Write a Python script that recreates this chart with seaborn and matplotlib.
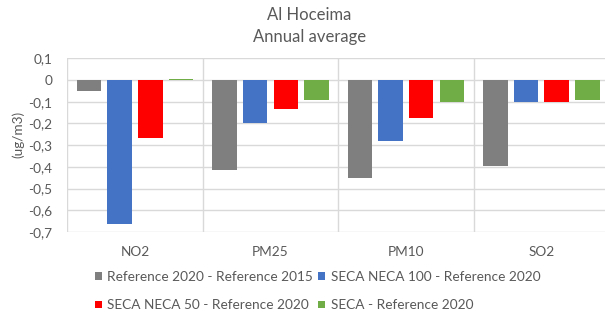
import matplotlib
matplotlib.use("Agg")
import matplotlib.pyplot as plt
from matplotlib.patches import Patch
import seaborn as sns
import pandas as pd

# Pollutants on the category axis
categories = ["NO2", "PM25", "PM10", "SO2"]

# Scenario differences of annual average concentration (ug/m3)
series_names = [
    "Reference 2020 - Reference 2015",
    "SECA NECA 100 - Reference 2020",
    "SECA NECA 50 - Reference 2020",
    "SECA - Reference 2020",
]
ref2020_minus_ref2015 = [-0.049, -0.416, -0.451, -0.397]
seca_neca100_minus_ref2020 = [-0.662, -0.200, -0.282, -0.099]
seca_neca50_minus_ref2020 = [-0.265, -0.135, -0.176, -0.099]
seca_minus_ref2020 = [0.006, -0.090, -0.099, -0.093]

y_ticks = [0.1, 0.0, -0.1, -0.2, -0.3, -0.4, -0.5, -0.6, -0.7]
y_tick_labels = ["0,1", "0", "-0,1", "-0,2", "-0,3", "-0,4", "-0,5", "-0,6", "-0,7"]

colors = ["#7F7F7F", "#4472C4", "#FF0000", "#70AD47"]
text_color = "#595959"
grid_color = "#D9D9D9"

rows = []
for name, vals in zip(series_names, [ref2020_minus_ref2015, seca_neca100_minus_ref2020,
                                     seca_neca50_minus_ref2020, seca_minus_ref2020]):
    for cat, v in zip(categories, vals):
        rows.append({"pollutant": cat, "scenario": name, "value": v})
df = pd.DataFrame(rows)

sns.set_theme(style="white")
plt.rcParams["font.family"] = ["Lato", "DejaVu Sans"]

fig = plt.figure(figsize=(6.05, 3.2), dpi=100)
ax = fig.add_axes([67.3 / 605, 1 - 232 / 320, (609 - 67.3) / 605, (232 - 58.3) / 320])

sns.barplot(data=df, x="pollutant", y="value", hue="scenario", order=categories,
            hue_order=series_names, palette=colors, width=0.906, gap=0.2,
            saturation=1, linewidth=0, errorbar=None, legend=False, ax=ax)

ax.set_xlim(-0.5, 3.5)
ax.set_ylim(-0.7, 0.1)
ax.set_yticks(y_ticks)
ax.set_yticklabels(y_tick_labels)
ax.set_xticks(range(len(categories)))
ax.set_xticklabels(categories)

ax.grid(False)
for y in y_ticks:
    ax.axhline(y, color=grid_color, lw=1.0, zorder=0)
for x in [-0.5, 0.5, 1.5, 2.5, 3.5]:
    ax.axvline(x, color=grid_color, lw=1.0, zorder=0)
for s in ax.spines.values():
    s.set_visible(False)

tick_size = 9.8
ax.tick_params(axis="y", length=0, pad=11, labelsize=tick_size, labelcolor=text_color)
ax.tick_params(axis="x", length=0, pad=10, labelsize=tick_size, labelcolor=text_color)
ax.set_xlabel("")
ax.set_ylabel("")

fig.text(18.3 / 605, 1 - 134 / 320, "(ug/m3)", rotation=90, ha="center", va="center",
         fontsize=tick_size, color=text_color)

fig.text(309.5 / 605, 1 - 20.5 / 320, "Al Hoceima", ha="center", va="baseline",
         fontsize=12, color=text_color)
fig.text(309.5 / 605, 1 - 42 / 320, "Annual average", ha="center", va="baseline",
         fontsize=12, color=text_color)

handles = [Patch(facecolor=c, edgecolor="none") for c in colors]
order = [0, 2, 1, 3]
leg = fig.legend([handles[i] for i in order], [series_names[i] for i in order],
                 ncol=2, loc="upper left", bbox_to_anchor=(95 / 605, 1 - 271 / 320),
                 frameon=False, fontsize=9.8, handlelength=0.5, handleheight=0.5,
                 handletextpad=0.4, columnspacing=0.4, labelspacing=1.2,
                 borderpad=0, borderaxespad=0)
for t in leg.get_texts():
    t.set_color(text_color)

fig.savefig("out.png", dpi=100)
